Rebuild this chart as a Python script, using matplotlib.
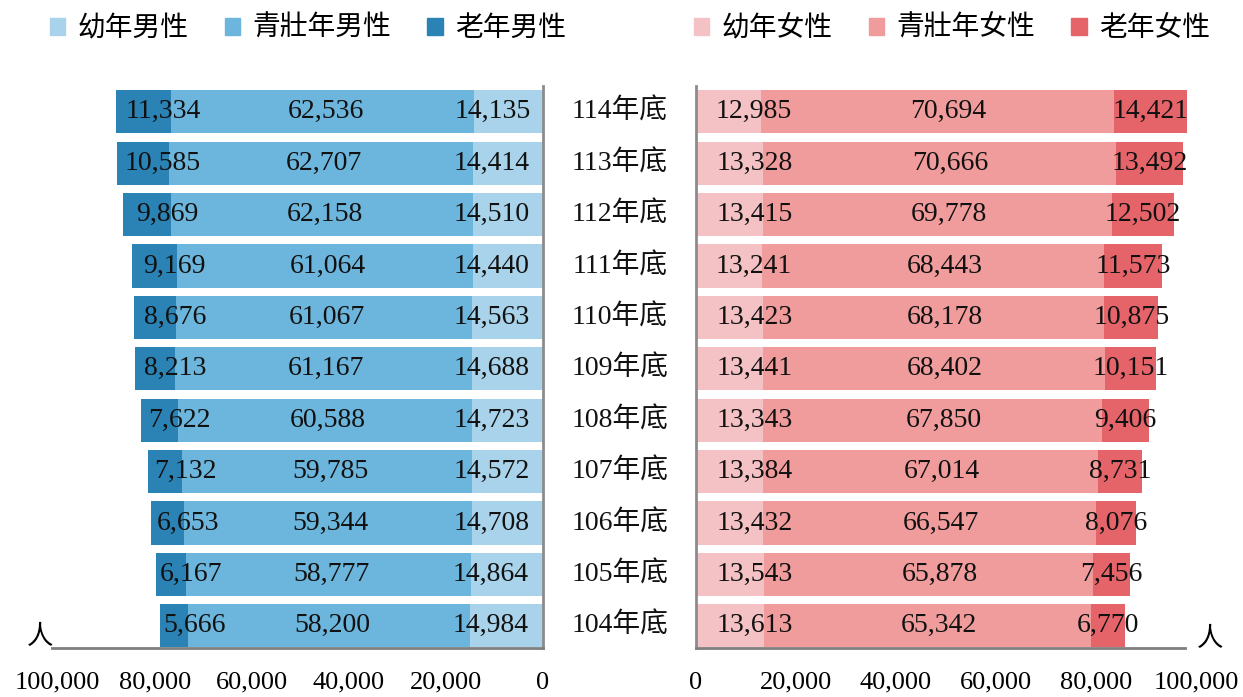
import matplotlib.pyplot as plt
from matplotlib.patches import Patch
from matplotlib.ticker import FuncFormatter
import matplotlib.transforms as mtransforms

plt.rcParams['font.family'] = ['Liberation Serif', 'Noto Sans CJK TC']

# data (bottom row first)
years = ['104年底', '105年底', '106年底', '107年底', '108年底', '109年底',
         '110年底', '111年底', '112年底', '113年底', '114年底']
male_young = [14984, 14864, 14708, 14572, 14723, 14688, 14563, 14440, 14510, 14414, 14135]
male_adult = [58200, 58777, 59344, 59785, 60588, 61167, 61067, 61064, 62158, 62707, 62536]
male_old = [5666, 6167, 6653, 7132, 7622, 8213, 8676, 9169, 9869, 10585, 11334]
female_young = [13613, 13543, 13432, 13384, 13343, 13441, 13423, 13241, 13415, 13328, 12985]
female_adult = [65342, 65878, 66547, 67014, 67850, 68402, 68178, 68443, 69778, 70666, 70694]
female_old = [6770, 7456, 8076, 8731, 9406, 10151, 10875, 11573, 12502, 13492, 14421]

male_labels = ['幼年男性', '青壯年男性', '老年男性']
female_labels = ['幼年女性', '青壯年女性', '老年女性']
male_colors = ['#a9d3ea', '#6cb5dc', '#2b83b5']
female_colors = ['#f4c2c4', '#f09c9c', '#e5646a']

W, H = 1243, 697
fig = plt.figure(figsize=(W / 100, H / 100), dpi=100)

y0, y1 = 648, 86
axl = fig.add_axes([52 / W, 1 - y0 / H, (543 - 52) / W, (y0 - y1) / H])
axr = fig.add_axes([696 / W, 1 - y0 / H, (1196 - 696) / W, (y0 - y1) / H])

ypos = list(range(len(years)))
bh = 0.84


def draw_side(ax, young, adult, old, colors, offsets):
    left = [0] * len(young)
    segs = [young, adult, old]
    for seg, col, off in zip(segs, colors, offsets):
        ax.barh(ypos, seg, left=left, height=bh, color=col, edgecolor='none')
        for y, l, v in zip(ypos, left, seg):
            ax.annotate(f'{v:,}', (l + v / 2, y), xytext=(off * 0.72, 0),
                        textcoords='offset points', ha='center', va='center',
                        fontsize=20, color='#111111')
        left = [a + b for a, b in zip(left, seg)]


draw_side(axl, male_young, male_adult, male_old, male_colors, [-16, 3, 20])
draw_side(axr, female_young, female_adult, female_old, female_colors, [25, 11, 0])

fmt = FuncFormatter(lambda v, p: f'{int(v):,}')
for ax in (axl, axr):
    ax.set_ylim(-0.43, 10.5)
    ax.set_yticks([])
    ax.set_xticks([0, 20000, 40000, 60000, 80000, 100000])
    ax.xaxis.set_major_formatter(fmt)
    ax.tick_params(axis='x', length=0, labelsize=19, pad=17)
    ax.spines['top'].set_visible(False)
    ax.spines['bottom'].set_color('#7f7f7f')
    ax.spines['bottom'].set_linewidth(2)

axl.set_xlim(101200, 0)
axl.spines['left'].set_visible(False)
axl.spines['right'].set_color('#8c8c8c')
axl.spines['right'].set_linewidth(2)

axr.set_xlim(0, 100000)
axr.spines['right'].set_visible(False)
axr.spines['left'].set_color('#8c8c8c')
axr.spines['left'].set_linewidth(2)
axr.spines['bottom'].set_bounds(0, 97800)

# year labels in the middle
trans = mtransforms.blended_transform_factory(fig.transFigure, axl.transData)
for y, t in zip(ypos, years):
    axl.text(620 / W, y, t, transform=trans, ha='center', va='center',
             fontsize=20, color='#111111', clip_on=False)

fig.text(40 / W, 1 - 636 / H, '人', fontsize=19, ha='center', va='center',
         family='Noto Sans CJK TC')
fig.text(1210 / W, 1 - 638 / H, '人', fontsize=19, ha='center', va='center',
         family='Noto Sans CJK TC')

# legends
mh = [Patch(color=c) for c in male_colors]
fh = [Patch(color=c) for c in female_colors]
leg_kw = dict(ncol=3, frameon=False, handlelength=0.55, handleheight=0.55,
              handletextpad=0.45, columnspacing=1.3, loc='center',
              prop={'family': 'Noto Sans CJK TC', 'size': 20})
fig.legend(mh, male_labels, bbox_to_anchor=(308 / W, 1 - 28 / H), **leg_kw)
fig.legend(fh, female_labels, bbox_to_anchor=(952 / W, 1 - 28 / H), **leg_kw)

fig.savefig('out.png', dpi=100)
